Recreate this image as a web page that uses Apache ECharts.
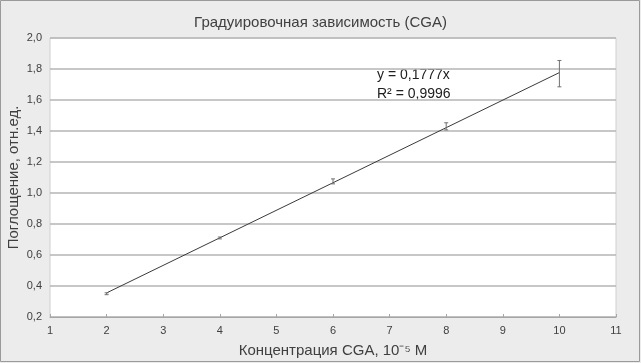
<!DOCTYPE html>
<html><head><meta charset="utf-8">
<script src="https://cdn.jsdelivr.net/npm/echarts@6/dist/echarts.min.js"></script>
<style>html,body{margin:0;padding:0;background:#ececec}#c{width:641px;height:363px}</style>
</head><body><div id="c"></div>
<script>
var concentrations = [2, 4, 6, 8, 10];
var absorbance = [0.35, 0.71, 1.075, 1.43, 1.77];
var errors = [0.006, 0.006, 0.016, 0.023, 0.085];
var trendX = [2, 10];
var trendY = [0.3554, 1.777];
var xTicks = [1, 2, 3, 4, 5, 6, 7, 8, 9, 10, 11];
var yTicks = [0.2, 0.4, 0.6, 0.8, 1.0, 1.2, 1.4, 1.6, 1.8, 2.0];
var equationText = 'y = 0,1777x';
var r2Text = 'R² = 0,9996';

var chart = echarts.init(document.getElementById('c'), null, {renderer: 'canvas'});
var font = 'Liberation Sans, Arial, sans-serif';
var txt = '#404040';

var errData = concentrations.map(function (x, i) { return [x, absorbance[i] - errors[i], absorbance[i] + errors[i]]; });
var trendData = trendX.map(function (x, i) { return [x, trendY[i]]; });

chart.setOption({
  backgroundColor: '#ececec',
  animation: false,
  title: {
    text: 'Градуировочная зависимость (CGA)',
    left: 'center', top: 10,
    textStyle: {fontFamily: font, fontSize: 15, fontWeight: 'normal', color: txt}
  },
  grid: {left: 50, right: 25, top: 38, bottom: 46, containLabel: false, outerBoundsMode: 'none',
    show: true, backgroundColor: '#ffffff', borderColor: '#d0d0d0', borderWidth: 1},
  xAxis: {
    type: 'value', min: xTicks[0], max: xTicks[xTicks.length - 1], interval: 1,
    name: 'Концентрация CGA, 10⁻⁵ М', nameLocation: 'middle', nameGap: 26, nameMoveOverlap: false,
    nameTextStyle: {fontFamily: font, fontSize: 15, color: txt},
    axisLine: {lineStyle: {color: '#a6a6a6', width: 1}},
    axisTick: {show: true, length: 3, inside: true, lineStyle: {color: '#a6a6a6'}},
    axisLabel: {fontFamily: font, fontSize: 11, color: txt, margin: 8},
    splitLine: {show: false}
  },
  yAxis: {
    type: 'value', min: yTicks[0], max: yTicks[yTicks.length - 1], interval: 0.2,
    name: 'Поглощение, отн.ед.', nameLocation: 'middle', nameGap: 29, nameRotate: 90, nameMoveOverlap: false,
    nameTextStyle: {fontFamily: font, fontSize: 15, color: txt},
    axisLine: {show: false},
    axisTick: {show: false},
    axisLabel: {fontFamily: font, fontSize: 11, color: txt, margin: 8,
      formatter: function (v) { return v.toFixed(1).replace('.', ','); }},
    splitLine: {show: true, lineStyle: {color: '#b4b4b4', width: 1.5}}
  },
  series: [
    {
      type: 'line', data: trendData, symbol: 'none', silent: true,
      lineStyle: {color: '#3a3a3a', width: 1}, z: 3
    },
    {
      type: 'custom', data: errData, z: 4,
      renderItem: function (params, api) {
        var x = api.value(0);
        var lo = api.coord([x, api.value(1)]);
        var hi = api.coord([x, api.value(2)]);
        var c = 2;
        var st = {stroke: '#707070', lineWidth: 1};
        return {type: 'group', children: [
          {type: 'line', shape: {x1: lo[0], y1: lo[1], x2: hi[0], y2: hi[1]}, style: st},
          {type: 'line', shape: {x1: lo[0] - c, y1: lo[1], x2: lo[0] + c, y2: lo[1]}, style: st},
          {type: 'line', shape: {x1: hi[0] - c, y1: hi[1], x2: hi[0] + c, y2: hi[1]}, style: st}
        ]};
      }
    }
  ],
  graphic: [
    {type: 'text', left: 377, top: 68, style: {text: equationText, fontFamily: font, fontSize: 14, fill: '#202020'}},
    {type: 'text', left: 377, top: 87, style: {text: r2Text, fontFamily: font, fontSize: 14, fill: '#202020'}},
    {type: 'rect', shape: {x: 0.5, y: 0.5, width: 639, height: 361}, style: {fill: 'none', stroke: '#9a9a9a', lineWidth: 1}, silent: true}
  ]
});
</script></body></html>
